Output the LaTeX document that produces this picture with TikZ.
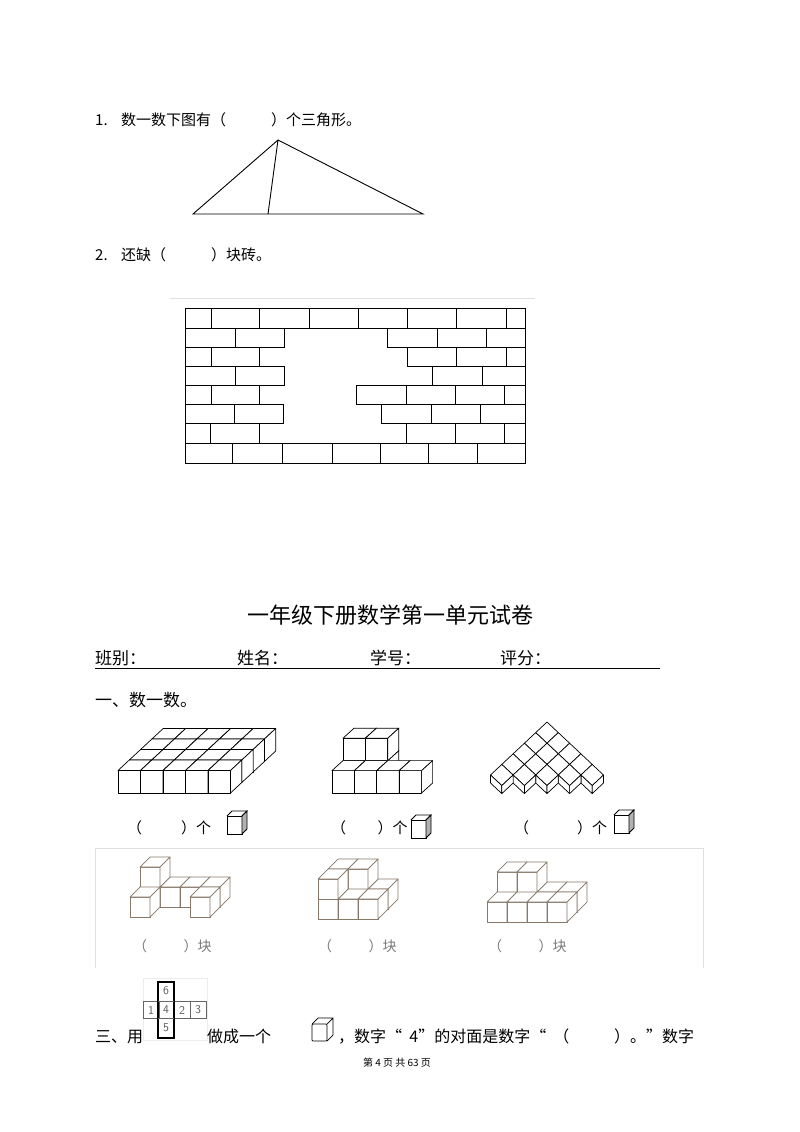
\documentclass[tikz,border=0pt]{standalone}
\usepackage{fontspec}
\newfontfamily\cjk{Noto Sans CJK SC}
\definecolor{brn}{RGB}{135,120,105}
\definecolor{lbl}{RGB}{120,120,120}
\def\cs{20}\def\cdx{10}\def\cdy{10}
\newcommand\cubeat[5]{\begin{scope}[shift={({#1+#3*\cs+#4*\cdx},{#2-#5*\cs-#4*\cdy})}]
\filldraw[cubest] (0,0)--(\cs,0)--(\cs,-\cs)--(0,-\cs)--cycle;
\filldraw[cubest] (0,-\cs)--(\cs,-\cs)--({\cs+\cdx},{-\cs-\cdy})--(\cdx,{-\cs-\cdy})--cycle;
\filldraw[cubest] (\cs,0)--({\cs+\cdx},-\cdy)--({\cs+\cdx},{-\cs-\cdy})--(\cs,-\cs)--cycle;
\end{scope}}
\newcommand\iconcube[2]{\begin{scope}[shift={(#1,#2)}]
\draw[line width=0.8pt,fill=white] (0,5) rectangle (15,23);
\draw[line width=0.8pt] (0,5)--(5,0)--(20,0)--(15,5);
\filldraw[line width=0.8pt,fill=gray!60] (15,5)--(20,0)--(20,18)--(15,23)--cycle;
\end{scope}}
\begin{document}
\begin{tikzpicture}[x=1pt,y=-1pt,
  cubest/.style={draw=black,fill=white,line width=0.7pt,line join=round},
  txt/.style={anchor=base west,inner sep=0pt,font=\cjk\fontsize{15}{15}\selectfont},
  brick/.style={draw=black,line width=1pt}]
\useasboundingbox (0,0) rectangle (800,1132);
% question 1
\node[txt] (q1) at (95,125) {1.\hspace{0.9em}数一数下图有（\hspace{3em}）个三角形。};
\coordinate (ta) at (278,140); \coordinate (tl) at (193,214);
\coordinate (tr) at (423,214); \coordinate (tm) at (268,214);
\draw[line width=0.9pt] (ta)--(tl)--(tr)--cycle (ta)--(tm);
\node[txt] (q2) at (95,260) {2.\hspace{0.9em}还缺（\hspace{3em}）块砖。};
% wall
\draw[gray!25,line width=0.8pt] (170,298)--(535,298);
\foreach \ya/\yb/\xs in {
 308/328/{185,211,259,309,358,407,456,506,525},
 443/463/{185,232,282,332,380,428,477,525}}{
 \foreach \x [remember=\x as \lx (initially 0)] in \xs {\ifnum\lx>0 \draw[brick] (\lx,\ya) rectangle (\x,\yb);\fi}}
\foreach \ya/\yb/\xs in {
 328/347/{185,235,284}, 328/347/{387,437,486,525},
 347/366/{185,211,259}, 347/366/{407,456,506,525},
 366/385/{185,235,284}, 366/385/{432,482,525},
 385/404/{185,211,259}, 385/404/{356,406,455,504,525},
 404/423/{185,234,283}, 404/423/{381,431,480,525},
 423/443/{185,210,259}, 423/443/{406,455,504,525}}{
 \foreach \x [remember=\x as \lx (initially 0)] in \xs {\ifnum\lx>0 \draw[brick] (\lx,\ya) rectangle (\x,\yb);\fi}}
% title
\node[anchor=base,inner sep=0pt,font=\cjk\fontsize{22}{22}\selectfont] (title) at (390,623) {一年级下册数学第一单元试卷};
\begin{scope}[every node/.style={anchor=base west,inner sep=0pt,font=\cjk\fontsize{17}{17}\selectfont}]
\node (c1) at (95,664) {班别：}; \node (c2) at (237,664) {姓名：};
\node (c3) at (370,664) {学号：}; \node (c4) at (500,664) {评分：};
\node (s1) at (95,706) {一、数一数。};
\end{scope}
\draw[line width=0.7pt] (95,668)--(660,668);
% figure A
\def\cs{22.5}\def\cdx{11.3}\def\cdy{10.5}
\foreach \j in {3,2,1,0}{\foreach \i in {0,...,4}{\cubeat{118}{793}{\i}{\j}{0}}}
% figure B
\def\cs{22.4}\def\cdx{11}\def\cdy{10}
\cubeat{332}{793}{0}{1}{0}\cubeat{332}{793}{1}{1}{0}
\cubeat{332}{793}{0}{1}{1}\cubeat{332}{793}{1}{1}{1}
\foreach \i in {0,...,3}{\cubeat{332}{793}{\i}{0}{0}}
% figure C (isometric flat pyramid)
\def\w{11.3}\def\h{10.6}\def\v{8}
\foreach \a in {0,...,4}{\foreach \b in {0,...,4}{
 \pgfmathtruncatemacro\sm{\a+\b}
 \ifnum\sm<5
 \begin{scope}[shift={({547+(\b-\a)*\w},{722+\sm*\h})}]
 \filldraw[cubest] (0,0)--(\w,\h)--(0,2*\h)--(-\w,\h)--cycle;
 \ifnum\sm=4
 \filldraw[cubest] (-\w,\h)--(0,2*\h)--(0,2*\h+\v)--(-\w,\h+\v)--cycle;
 \filldraw[cubest] (\w,\h)--(0,2*\h)--(0,2*\h+\v)--(\w,\h+\v)--cycle;
 \fi
 \end{scope}\fi}}
% labels row 1
\begin{scope}[every node/.style={anchor=base west,inner sep=0pt,font=\cjk\fontsize{15}{15}\selectfont}]
\node (la1) at (127,833) {（\hspace{2.6em}）个}; \node (la2) at (331,833) {（\hspace{2.1em}）个};
\node (la3) at (514,833) {（\hspace{3.2em}）个};
\end{scope}
\iconcube{227}{811}\iconcube{411}{815}\iconcube{614}{810}
% gray box
\draw[gray!25,line width=0.8pt] (95,968)--(95,848)--(703,848)--(703,968);
% figures D E F
\tikzset{cubest/.style={draw=brn,fill=white,line width=0.7pt,line join=round}}
\def\cs{20}\def\cdx{10}\def\cdy{10}
\foreach \i/\k in {0/0,1/0,2/0,3/0,0/1}{\cubeat{130}{917}{\i}{1}{\k}}
\cubeat{130}{917}{0}{0}{0}\cubeat{130}{917}{3}{0}{0}
\foreach \i in {0,1,2}{\cubeat{318}{919}{\i}{1}{0}}
\cubeat{318}{919}{0}{1}{1}\cubeat{318}{919}{1}{1}{1}
\foreach \i in {0,1,2}{\cubeat{318}{919}{\i}{0}{0}}
\cubeat{318}{919}{0}{0}{1}
\foreach \i in {0,...,3}{\cubeat{487}{922}{\i}{1}{0}}
\cubeat{487}{922}{0}{1}{1}\cubeat{487}{922}{1}{1}{1}
\foreach \i in {0,...,3}{\cubeat{487}{922}{\i}{0}{0}}
\begin{scope}[every node/.style={anchor=base west,inner sep=0pt,text=lbl,font=\cjk\fontsize{14}{14}\selectfont}]
\node (ld) at (133,951) {（\hspace{2.6em}）块}; \node (le) at (318,951) {（\hspace{2.6em}）块};
\node (lf) at (488,951) {（\hspace{2.6em}）块};
\end{scope}
% net
\draw[gray!15] (143,978) rectangle (207,1040);
\begin{scope}[line width=0.6pt,draw=gray!80!black]
\draw (143,1001) rectangle (206,1018);
\draw (159,1001)--(159,1018) (174,1001)--(174,1018) (190,1001)--(190,1018);
\draw[line width=1.2pt,black] (158,982) rectangle (174,1038);
\draw (158,1001)--(174,1001) (158,1018)--(174,1018);
\end{scope}
\begin{scope}[every node/.style={inner sep=0pt,text=gray!70!black,font=\fontsize{12}{12}\selectfont\sffamily}]
\node (n6) at (166,991) {6}; \node (n1) at (151,1010) {1}; \node (n4) at (166,1010) {4};
\node (n2) at (182,1010) {2}; \node (n3) at (198,1010) {3}; \node (n5) at (166,1028) {5};
\end{scope}
\begin{scope}[every node/.style={anchor=base west,inner sep=0pt,font=\cjk\fontsize{16}{16}\selectfont}]
\node (t3a) at (95,1042) {三、用};
\node (t3b) at (207,1042) {做成一个};
\node (t3c) at (338,1042) {，数字“\ \ 4”的对面是数字“\ \ （\hspace{2.8em}）。”数字};
\end{scope}
\draw[line width=0.7pt,rounded corners=1pt] (312,1024) rectangle (327,1041);
\draw[line width=0.7pt] (312,1024)--(318,1018)--(333,1018)--(333,1035)--(327,1041) (327,1024)--(333,1018);
\node[anchor=base,inner sep=0pt,font=\cjk\fontsize{10}{10}\selectfont] (foot) at (397,1066) {第 4 页 共 63 页};
\end{tikzpicture}
\end{document}
